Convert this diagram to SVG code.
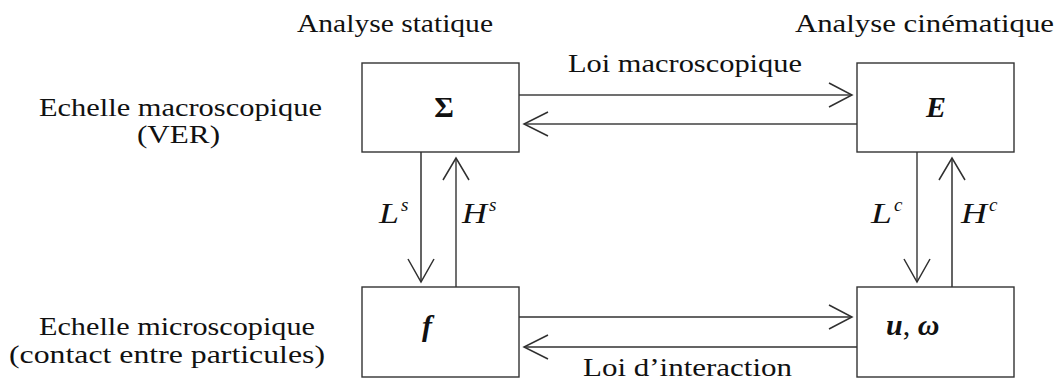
<svg xmlns="http://www.w3.org/2000/svg" width="1057" height="383" viewBox="0 0 1057 383">
<style>
text{font-family:"Liberation Serif","Times New Roman",serif;fill:#111;}
.lbl{font-size:25px;}
.box{fill:#fff;stroke:#333;stroke-width:1.4;}
.g{stroke:#707070;stroke-width:2;fill:none;}
.d{stroke:#303030;stroke-width:1.5;fill:none;}
.m{font-size:29px;font-style:italic;}
.sup{font-size:19px;font-style:italic;}
.sym{font-size:30px;font-weight:bold;}
</style>
<rect width="1057" height="383" fill="#fff"/>
<g id="headers">
<text class="lbl" x="297" y="32" textLength="196" lengthAdjust="spacingAndGlyphs">Analyse statique</text>
<text class="lbl" x="795" y="32" textLength="259" lengthAdjust="spacingAndGlyphs">Analyse cinématique</text>
<text class="lbl" x="39" y="116" textLength="283" lengthAdjust="spacingAndGlyphs">Echelle macroscopique</text>
<text class="lbl" x="137" y="143" textLength="83" lengthAdjust="spacingAndGlyphs">(VER)</text>
<text class="lbl" x="39" y="335" textLength="276" lengthAdjust="spacingAndGlyphs">Echelle microscopique</text>
<text class="lbl" x="9" y="363" textLength="316" lengthAdjust="spacingAndGlyphs">(contact entre particules)</text>
</g>
<g id="connectors">
<line class="g" x1="519" y1="95" x2="852" y2="95"/>
<polyline class="d" points="829,83 852,95 829,107"/>
<line class="g" x1="857" y1="124" x2="524" y2="124"/>
<polyline class="d" points="548,112 524,124 548,136"/>
<line class="d" x1="519" y1="317" x2="852" y2="317"/>
<polyline class="d" points="829,305 852,317 829,329"/>
<line class="d" x1="857" y1="347" x2="524" y2="347"/>
<polyline class="d" points="548,335 524,347 548,359"/>
<line class="d" x1="421" y1="152" x2="421" y2="282"/>
<polyline class="d" points="408,259 421,282 434,259"/>
<line class="g" x1="456" y1="287" x2="456" y2="158"/>
<polyline class="d" points="443,180 456,158 469,180"/>
<line class="g" x1="917" y1="152" x2="917" y2="282"/>
<polyline class="d" points="904,259 917,282 930,259"/>
<line class="d" x1="952" y1="287" x2="952" y2="158"/>
<polyline class="d" points="939,180 952,158 965,180"/>
<text class="lbl" x="568" y="72" textLength="234" lengthAdjust="spacingAndGlyphs">Loi macroscopique</text>
<text class="lbl" x="583" y="376" textLength="209" lengthAdjust="spacingAndGlyphs">Loi d’interaction</text>
<text class="m" x="379" y="223" textLength="20" lengthAdjust="spacingAndGlyphs">L</text><text class="sup" x="401" y="211">s</text>
<text class="m" x="462" y="223" textLength="25" lengthAdjust="spacingAndGlyphs">H</text><text class="sup" x="489" y="211">s</text>
<text class="m" x="871" y="223" textLength="21" lengthAdjust="spacingAndGlyphs">L</text><text class="sup" x="894" y="211">c</text>
<text class="m" x="961" y="223" textLength="26" lengthAdjust="spacingAndGlyphs">H</text><text class="sup" x="989" y="211">c</text>
</g>
<g id="node-sigma">
<rect class="box" x="362" y="63" width="157" height="89"/>
<text class="sym" x="444" y="117" text-anchor="middle">Σ</text>
</g>
<g id="node-E">
<rect class="box" x="857" y="63" width="157" height="89"/>
<text class="sym" x="936" y="117" text-anchor="middle" font-style="italic">E</text>
</g>
<g id="node-f">
<rect class="box" x="362" y="287" width="157" height="90"/>
<text class="sym" x="427" y="336" text-anchor="middle" font-style="italic">f</text>
</g>
<g id="node-u">
<rect class="box" x="857" y="287" width="157" height="90"/>
<text class="sym" x="886" y="335" font-style="italic">u<tspan font-weight="normal" font-style="normal">,</tspan> ω</text>
</g>
</svg>
